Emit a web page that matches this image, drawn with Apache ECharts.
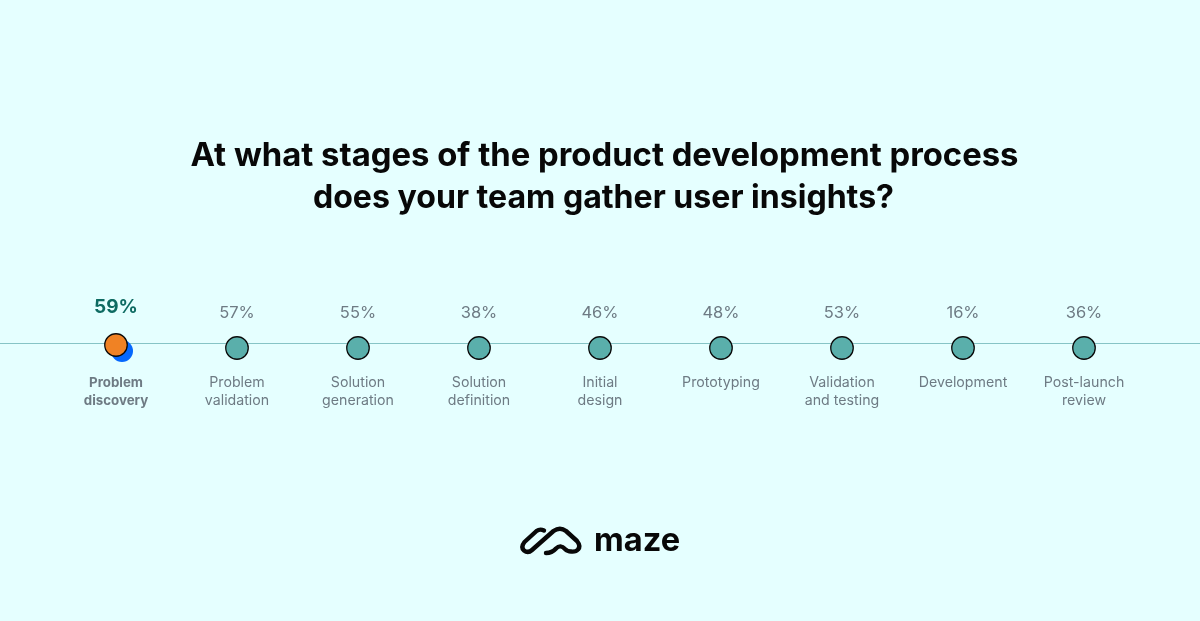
<!DOCTYPE html>
<html><head><meta charset="utf-8">
<style>html,body{margin:0;padding:0;background:#E5FFFF}#c{width:1200px;height:621px}</style>
<script src="https://cdn.jsdelivr.net/npm/echarts@6/dist/echarts.min.js"></script>
</head><body><div id="c"></div>
<script>
const titleLines = ['At what stages of the product development process', 'does your team gather user insights?'];
const categories = ['Problem\ndiscovery','Problem\nvalidation','Solution\ngeneration','Solution\ndefinition','Initial\ndesign','Prototyping','Validation\nand testing','Development','Post-launch\nreview'];
const percents = [59,57,55,38,46,48,53,16,36];
const highlighted = 'Problem\ndiscovery';
const brand = 'maze';

echarts.graphic.registerShape('mazeLogo', echarts.graphic.extendPath('M544 530.5Q540 528.5 536.5 531L524.5 542Q520.5 547 524 550.5Q528 553.5 532 550L553.5 531Q560 526.5 566 531L577 541Q581 546 578 549.5Q576 552 571 551.5Q567.5 551.5 565 549Q560.5 544 556 548.5Q552 553 546 553', {}));

const chart = echarts.init(document.getElementById('c'), null, {renderer:'canvas'});
const FONT = 'Inter';
chart.setOption({
  animation:false,
  backgroundColor:'#E5FFFF',
  grid:{left:55.5,width:1089,top:248,height:200},
  xAxis:{type:'category',data:categories,axisLine:{show:false},axisTick:{show:false},
    position:'top',offset:-126,
    axisLabel:{interval:0,margin:0,verticalAlign:'top',
      formatter:(v)=>{const k=v===highlighted?'b':'n';return v.split('\n').map(s=>`{${k}|${s}}`).join('\n');},
      rich:{
        n:{fontFamily:FONT,fontSize:14.2,fontWeight:400,color:'#6E7B84',lineHeight:18,align:'center'},
        b:{fontFamily:FONT,fontSize:13.3,fontWeight:700,color:'#6E7B84',lineHeight:18,align:'center'}
      }}},
  yAxis:{type:'value',min:-1,max:1,show:false},
  graphic:[
    {type:'line',z:0,shape:{x1:0,y1:343.5,x2:1200,y2:343.5},style:{stroke:'#86C4C6',lineWidth:1}},
    {type:'text',x:604.5,y:156,style:{text:titleLines[0],font:`700 32.85px ${FONT}`,fill:'#080808',textAlign:'center',textVerticalAlign:'middle'}},
    {type:'text',x:603.5,y:198,style:{text:titleLines[1],font:`700 32.1px ${FONT}`,fill:'#080808',textAlign:'center',textVerticalAlign:'middle'}},
    {type:'mazeLogo',style:{fill:'none',stroke:'#080808',lineWidth:4.4,lineCap:'round',lineJoin:'round'}},
    {type:'text',x:594,y:541,style:{text:brand,font:`700 32.6px ${FONT}`,fill:'#080808',textAlign:'left',textVerticalAlign:'middle'}}
  ],
  series:[
    {type:'scatter',z:2,symbol:'circle',symbolSize:22,symbolOffset:[6,3],
      itemStyle:{color:'#0568FD',opacity:1},
      data:categories.map((c)=>c===highlighted?[c,0]:null).filter(Boolean)},
    {type:'scatter',z:3,symbol:'circle',symbolSize:22.5,
      itemStyle:{color:'#5AAFAB',borderColor:'#0A0A0A',borderWidth:1.3,opacity:1},
      data:categories.map((c,i)=>{
        const hi=c===highlighted;
        return {value:[c,0],
          symbolOffset:hi?[0,-3]:[0,0],
          itemStyle:hi?{color:'#F08224'}:undefined,
          label:{show:true,position:'top',
            distance:hi?16:15,
            formatter:percents[i]+'%',
            fontFamily:FONT,
            fontSize:hi?19:16.5,
            fontWeight:hi?700:400,
            color:hi?'#0E6B62':'#6E7B84'}};
      })}
  ]
});
</script></body></html>
